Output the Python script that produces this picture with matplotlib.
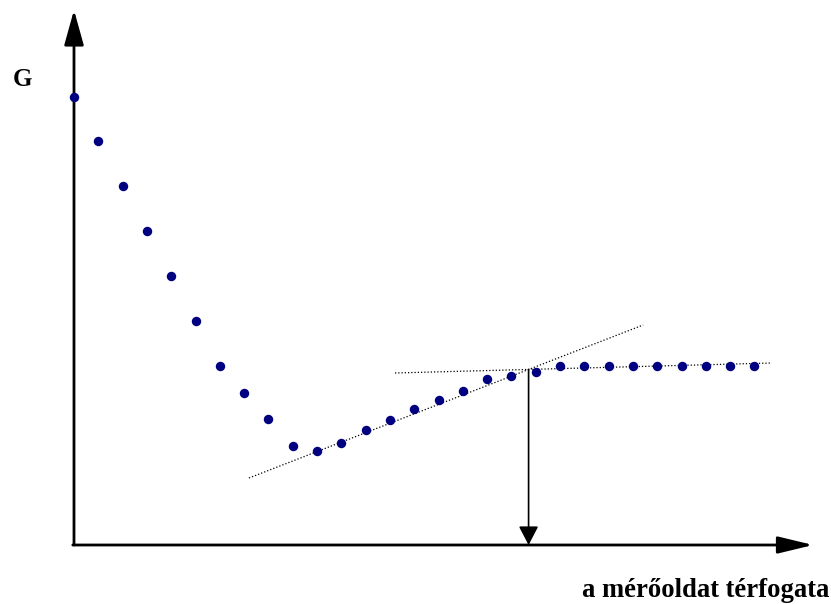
import matplotlib
matplotlib.use("Agg")
import matplotlib.pyplot as plt
import numpy as np

# Titration data (volume index, conductance G in arbitrary units)
volume = list(range(29))
G = [44.8, 40.4, 35.9, 31.4, 26.9, 22.4, 17.9, 15.2, 12.6, 9.9,
     9.4, 10.2, 11.5, 12.5, 13.6, 14.5, 15.4, 16.6, 16.9, 17.3,
     17.9, 17.9, 17.9, 17.9, 17.9, 17.9, 17.9, 17.9, 17.9]

# Tangent line endpoints (x, G)
line1_x = [7.20, 23.42]
line1_y = [6.7, 22.0]
line2_x = [13.21, 28.72]
line2_y = [17.2, 18.2]

xlabel = "a mérőoldat térfogata"
ylabel = "G"

fig = plt.figure(figsize=(8.31, 6.04), dpi=100)
ax = fig.add_axes([0, 0, 1, 1])
ax.set_xlim(-74 / 24.3, (831 - 74) / 24.3)
ax.set_ylim((545 - 604) / 10, 545 / 10)
ax.axis("off")

# axes with arrows
ax.annotate("", xy=(0, 53.5), xytext=(0, 0),
            arrowprops=dict(arrowstyle="-|>,head_length=2.16,head_width=0.6",
                            mutation_scale=10, lw=2, color="black",
                            shrinkA=0, shrinkB=0))
ax.annotate("", xy=(30.42, 0), xytext=(-0.05, 0),
            arrowprops=dict(arrowstyle="-|>,head_length=2.16,head_width=0.52",
                            mutation_scale=10, lw=2, color="black",
                            shrinkA=0, shrinkB=0))

# tangent lines
ax.plot(line1_x, line1_y, color="black", lw=0.9, linestyle=(0, (1, 1.6)))
ax.plot(line2_x, line2_y, color="black", lw=0.9, linestyle=(0, (1, 1.6)))

# intersection
s1 = (line1_y[1] - line1_y[0]) / (line1_x[1] - line1_x[0])
s2 = (line2_y[1] - line2_y[0]) / (line2_x[1] - line2_x[0])
xe = (line2_y[0] - line1_y[0] + s1 * line1_x[0] - s2 * line2_x[0]) / (s1 - s2)
ye = line1_y[0] + s1 * (xe - line1_x[0])

ax.annotate("", xy=(xe, 0), xytext=(xe, ye),
            arrowprops=dict(arrowstyle="-|>,head_length=1.15,head_width=0.6",
                            mutation_scale=10, lw=1.2, color="black",
                            shrinkA=0, shrinkB=0))

# data points
ax.plot(volume, G, "o", color="#000080", markersize=6.8, markeredgewidth=0, zorder=5)

font = dict(family=["Liberation Serif", "DejaVu Serif"], weight="bold")
fig.text(22 / 831, 1 - 79 / 604, ylabel, ha="center", va="center", size=18, **font)
fig.text(829 / 831, 1 - 597 / 604, xlabel, ha="right", va="baseline", size=19.2, **font)

fig.savefig("out.png", dpi=100)
